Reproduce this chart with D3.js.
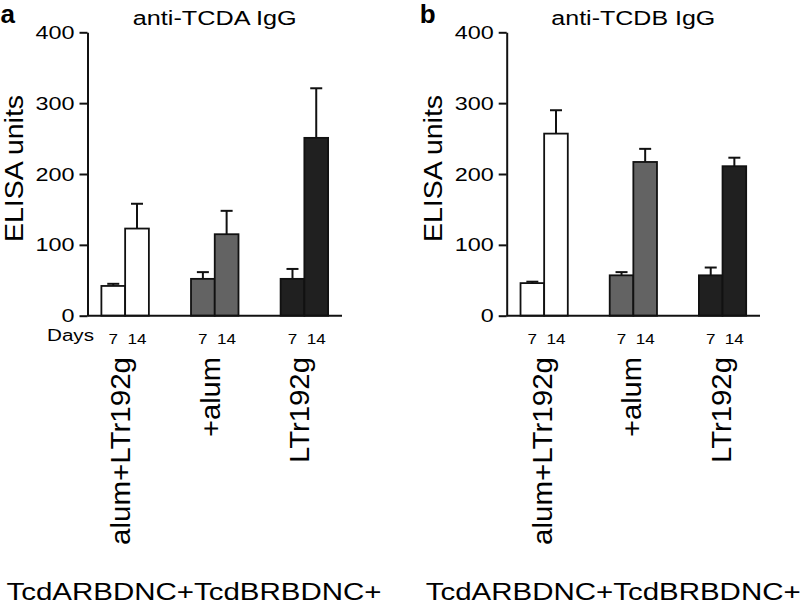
<!DOCTYPE html>
<html>
<head>
<meta charset="utf-8">
<script src="https://cdn.jsdelivr.net/npm/d3@7"></script>
<style>
  html, body { margin: 0; padding: 0; background: #fff; }
  svg { display: block; font-family: Arial, "Liberation Sans", Helvetica, sans-serif; }
</style>
</head>
<body>
<svg id="chart" width="800" height="606"></svg>
<script>
// ---------- data ----------
const groups = ["alum+LTr192g", "+alum", "LTr192g"];
const days = ["7", "14"];
const panelLetters = ["a", "b"];
const panelTitles = ["anti-TCDA IgG", "anti-TCDB IgG"];
const yTicks = [0, 100, 200, 300, 400];
const prefixLabel = "TcdARBDNC+TcdBRBDNC+";
const yLabel = "ELISA units";
const daysLabel = "Days";

// anti-TCDA (panel a): means and upper error (SEM) per group
const tcdaDay7 = [42, 52, 52];
const tcdaDay14 = [123, 115, 251];
const tcdaErr7 = [3, 9.5, 14];
const tcdaErr14 = [35, 33, 70];

// anti-TCDB (panel b)
const tcdbDay7 = [46, 57, 57];
const tcdbDay14 = [257, 217, 211];
const tcdbErr7 = [2, 4.5, 11];
const tcdbErr14 = [33, 18.5, 12];

const groupColors = ["#ffffff", "#636363", "#202020"];

// ---------- layout ----------
const svg = d3.select("#chart");
const y = d3.scaleLinear().domain([0, 400]).range([315.7, 32.3]);

// rendered lengths of the rotated group labels (style only)
const groupLabelLength = { "alum+LTr192g": 188, "+alum": 80, "LTr192g": 106 };

const panels = [
  { letter: panelLetters[0], title: panelTitles[0], d7: tcdaDay7, d14: tcdaDay14, e7: tcdaErr7, e14: tcdaErr14,
    x0: 87.5, x1: 342, labelShift: 5, showDays: true },
  { letter: panelLetters[1], title: panelTitles[1], d7: tcdbDay7, d14: tcdbDay14, e7: tcdbErr7, e14: tcdbErr14,
    x0: 506.7, x1: 760, labelShift: 8, showDays: false }
];

const ink = "#111";

panels.forEach(p => {
  const g = svg.append("g");

  const xg = d3.scaleBand().domain(groups).range([p.x0, p.x1])
    .paddingInner(0.47).paddingOuter(0.155);
  const xd = d3.scaleBand().domain(days).range([0, xg.bandwidth()]).padding(0);

  const rows = [];
  groups.forEach((grp, i) => {
    rows.push({ grp, day: "7", v: p.d7[i], e: p.e7[i], c: groupColors[i] });
    rows.push({ grp, day: "14", v: p.d14[i], e: p.e14[i], c: groupColors[i] });
  });

  // bars
  g.selectAll("rect.bar").data(rows).join("rect")
    .attr("class", "bar")
    .attr("x", d => xg(d.grp) + xd(d.day))
    .attr("y", d => y(d.v))
    .attr("width", xd.bandwidth())
    .attr("height", d => y(0) - y(d.v))
    .attr("fill", d => d.c)
    .attr("stroke", ink)
    .attr("stroke-width", 1.8);

  // error bars (upper only)
  const cx = d => xg(d.grp) + xd(d.day) + xd.bandwidth() / 2;
  g.selectAll("line.err").data(rows).join("line")
    .attr("class", "err")
    .attr("x1", cx).attr("x2", cx)
    .attr("y1", d => y(d.v)).attr("y2", d => y(d.v + d.e))
    .attr("stroke", ink).attr("stroke-width", 2);
  g.selectAll("line.cap").data(rows).join("line")
    .attr("class", "cap")
    .attr("x1", d => cx(d) - 6).attr("x2", d => cx(d) + 6)
    .attr("y1", d => y(d.v + d.e)).attr("y2", d => y(d.v + d.e))
    .attr("stroke", ink).attr("stroke-width", 2);

  // y axis
  const ya = g.append("g").attr("transform", `translate(${p.x0},0)`)
    .call(d3.axisLeft(y).tickValues(yTicks).tickSize(8).tickSizeOuter(0).tickPadding(5));
  ya.select(".domain").attr("stroke", ink).attr("stroke-width", 2);
  ya.selectAll(".tick line").attr("stroke", ink).attr("stroke-width", 2);
  ya.selectAll(".tick text")
    .attr("font-size", 19)
    .attr("fill", "#000")
    .attr("textLength", d => String(d).length * 13)
    .attr("lengthAdjust", "spacingAndGlyphs");

  // x baseline
  g.append("line")
    .attr("x1", p.x0).attr("x2", p.x1)
    .attr("y1", y(0)).attr("y2", y(0))
    .attr("stroke", ink).attr("stroke-width", 2);

  // day labels
  g.selectAll("text.day").data(rows).join("text")
    .attr("class", "day")
    .attr("x", cx)
    .attr("y", 344)
    .attr("text-anchor", "middle")
    .attr("font-size", 15)
    .attr("textLength", d => d.day.length * 9.5)
    .attr("lengthAdjust", "spacingAndGlyphs")
    .text(d => d.day);

  if (p.showDays) {
    g.append("text")
      .attr("x", 47).attr("y", 341)
      .attr("font-size", 16)
      .attr("textLength", 47)
      .attr("lengthAdjust", "spacingAndGlyphs")
      .text(daysLabel);
  }

  // rotated group labels
  g.selectAll("text.grp").data(groups).join("text")
    .attr("class", "grp")
    .attr("transform", d => `translate(${xg(d) + xg.bandwidth() / 2 + p.labelShift},357) rotate(-90)`)
    .attr("text-anchor", "end")
    .attr("font-size", 27)
    .attr("textLength", d => groupLabelLength[d])
    .attr("lengthAdjust", "spacingAndGlyphs")
    .text(d => d);

  // y label
  g.append("text")
    .attr("transform", `translate(${p.x0 - 64.5},168.5) rotate(-90)`)
    .attr("text-anchor", "middle")
    .attr("font-size", 25)
    .attr("textLength", 147)
    .attr("lengthAdjust", "spacingAndGlyphs")
    .text(yLabel);

  // title
  g.append("text")
    .attr("x", (p.x0 + p.x1) / 2).attr("y", 25)
    .attr("text-anchor", "middle")
    .attr("font-size", 20)
    .attr("textLength", 164)
    .attr("lengthAdjust", "spacingAndGlyphs")
    .text(p.title);

  // panel letter
  g.append("text")
    .attr("x", p.x0 - 87).attr("y", 23)
    .attr("font-size", 26)
    .attr("font-weight", "bold")
    .text(p.letter);

  // bottom prefix label
  g.append("text")
    .attr("x", p.x0 - 81).attr("y", 600)
    .attr("font-size", 23.5)
    .attr("textLength", 375)
    .attr("lengthAdjust", "spacingAndGlyphs")
    .text(prefixLabel);
});
</script>
</body>
</html>
